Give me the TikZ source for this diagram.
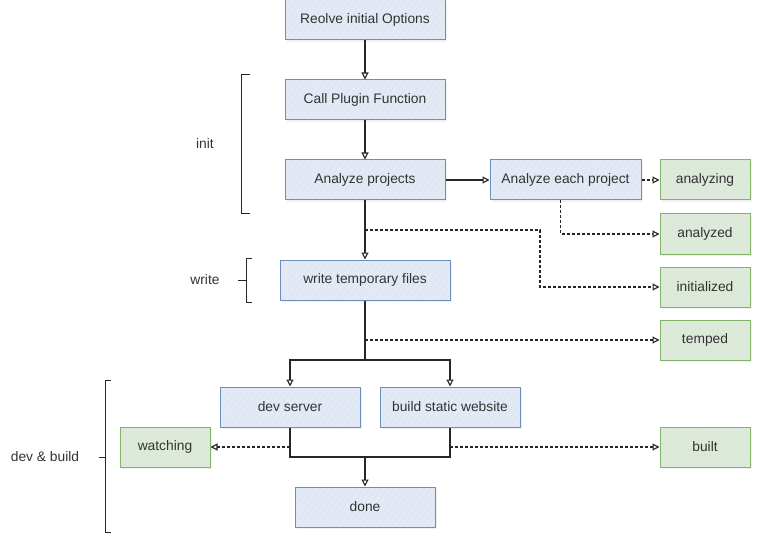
\documentclass[tikz,border=0pt]{standalone}
\usepackage{fontspec}
\setmainfont{Liberation Sans}
\usetikzlibrary{arrows.meta,patterns.meta,shadows}

\definecolor{bluefill}{HTML}{E3EAF6}
\definecolor{blueline}{HTML}{6C8EBF}
\definecolor{greenfill}{HTML}{DDE9DB}
\definecolor{greenline}{HTML}{82B366}
\definecolor{inkgray}{HTML}{333333}

\tikzset{
  stepbox/.style={draw=blueline, line width=1pt, minimum height=40, inner sep=0,
    font=\fontsize{13.8}{16}\selectfont, text=inkgray,
    drop shadow={opacity=0.12, shadow xshift=1.5pt, shadow yshift=-2pt},
    preaction={fill=bluefill},
    pattern={Lines[angle=55,distance=5pt,line width=0.5pt]}, pattern color=blueline!25},
  statebox/.style={stepbox, draw=greenline, minimum width=90,
    preaction={fill=greenfill}, pattern color=greenline!30},
  flow/.style={draw=black!85, line width=1.1pt, -{Triangle[open,length=7pt,width=7pt]}},
  flowline/.style={draw=black!85, line width=1.1pt},
  hook/.style={flow, dashed, dash pattern=on 3pt off 2pt},
  phase/.style={font=\fontsize{13.8}{16}\selectfont, text=inkgray},
  bracket/.style={draw=black!85, line width=1pt}
}

\begin{document}
\begin{tikzpicture}[x=1pt,y=-1pt]

  \useasboundingbox (0,0) rectangle (762,545);

  % main steps
  \node[stepbox, minimum width=160] (opts)  at (365,20)  {Reolve initial Options};
  \node[stepbox, minimum width=160] (call)  at (365,100) {Call Plugin Function};
  \node[stepbox, minimum width=160] (proj)  at (365,180) {Analyze projects};
  \node[stepbox, minimum width=151] (each)  at (565.5,180) {Analyze each project};
  \node[stepbox, minimum width=170] (write) at (365,280) {write temporary files};
  \node[stepbox, minimum width=140] (dev)   at (290,407) {dev server};
  \node[stepbox, minimum width=140] (build) at (450,407) {build static website};
  \node[stepbox, minimum width=140] (done)  at (365,507) {done};

  % hooks
  \node[statebox] (analyzing)   at (705,180) {analyzing};
  \node[statebox] (analyzed)    at (705,234) {analyzed};
  \node[statebox] (initialized) at (705,287) {initialized};
  \node[statebox] (temped)      at (705,340) {temped};
  \node[statebox] (watching)    at (165,447) {watching};
  \node[statebox] (built)       at (705,447) {built};

  \coordinate (tapinit)  at (365,230);
  \coordinate (taptemp)  at (365,340);
  \coordinate (split)    at (365,360);
  \coordinate (join)     at (365,457);

  % solid flow
  \draw[flow] (opts) -- (call);
  \draw[flow] (call) -- (proj);
  \draw[flow] (proj) -- (each);
  \draw[flow] (proj) -- (write);
  \draw[flowline] (write) -- (split);
  \draw[flow] (split) -| (dev);
  \draw[flow] (split) -| (build);
  \draw[flowline] (dev) |- (join);
  \draw[flowline] (build) |- (join);
  \draw[flow] (join) -- (done);

  % dashed hooks
  \draw[hook] (each) -- (analyzing);
  \draw[hook] ([xshift=-5pt]each.south) |- (analyzed);
  \draw[hook] (tapinit) -- ++(175,0) |- (initialized);
  \draw[hook] (taptemp) -- (temped);
  \draw[hook] (dev.south |- watching) -- (watching);
  \draw[hook] (build.south |- built) -- (built);

  % phases
  \draw[bracket] (250,75) -- (241,75) -- (241,214) -- (250,214);
  \draw(205,144) node[phase] {init};

  \draw[bracket] (252,258) -- (246,258) -- (246,302) -- (252,302)
                 (246,280) -- (238,280);
  \draw(205,280) node[phase] {write};

  \draw[bracket] (111,380) -- (105,380) -- (105,532) -- (111,532)
                 (105,457) -- (99,457);
  \draw(45,457) node[phase] {dev \& build};

\end{tikzpicture}
\end{document}
